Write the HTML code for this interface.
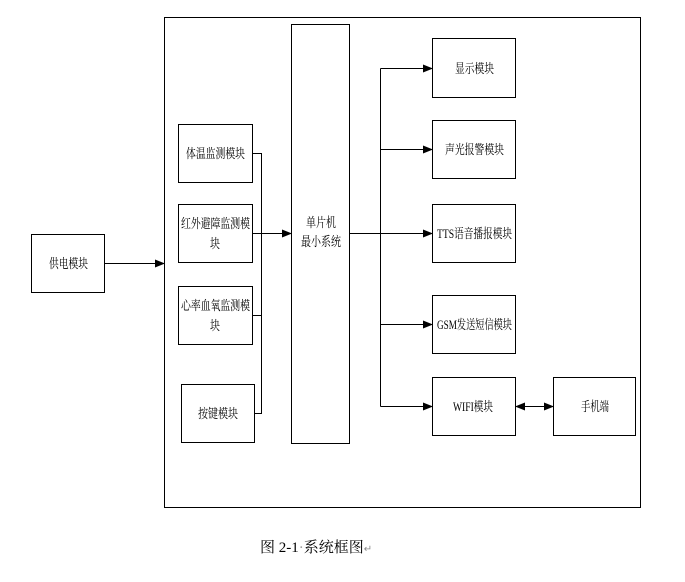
<!DOCTYPE html>
<html><head><meta charset="utf-8"><style>
html,body{margin:0;padding:0;background:#fff;}
svg{display:block;}
text{font-family:"Liberation Serif","Noto Serif CJK SC","Noto Sans CJK SC",serif;font-size:13px;fill:#000;}
</style></head><body>
<svg width="685" height="582" viewBox="0 0 685 582" xmlns="http://www.w3.org/2000/svg">
<defs>
<marker id="a" markerWidth="10" markerHeight="8" refX="9" refY="4" orient="auto" markerUnits="userSpaceOnUse"><path d="M0,0 L10,4 L0,8 z" fill="#000"/></marker>
<marker id="b" markerWidth="10" markerHeight="8" refX="1" refY="4" orient="auto" markerUnits="userSpaceOnUse"><path d="M10,0 L0,4 L10,8 z" fill="#000"/></marker>
</defs>
<g fill="none" stroke="#000" stroke-width="1">
<rect x="164.5" y="17.5" width="476" height="490"/>
<rect x="31.5" y="234.5" width="73" height="58"/>
<rect x="178.5" y="124.5" width="74" height="58"/>
<rect x="178.5" y="204.5" width="74" height="58"/>
<rect x="178.5" y="286.5" width="74" height="58"/>
<rect x="181.5" y="384.5" width="73" height="58"/>
<rect x="291.5" y="24.5" width="58" height="419"/>
<rect x="432.5" y="38.5" width="83" height="59"/>
<rect x="432.5" y="120.5" width="83" height="58"/>
<rect x="432.5" y="204.5" width="83" height="58"/>
<rect x="432.5" y="295.5" width="83" height="58"/>
<rect x="432.5" y="377.5" width="83" height="58"/>
<rect x="553.5" y="377.5" width="82" height="58"/>
<path d="M104,263.5 H164" marker-end="url(#a)"/>
<path d="M252,153.5 H261.5 V413.5 H254 M252,233.5 H261.5 M252,315.5 H261.5"/>
<path d="M261.5,233.5 H291" marker-end="url(#a)"/>
<path d="M349,233.5 H380.5 M380.5,68.5 V406.5"/>
<path d="M380.5,68.5 H432" marker-end="url(#a)"/>
<path d="M380.5,149.5 H432" marker-end="url(#a)"/>
<path d="M380.5,233.5 H432" marker-end="url(#a)"/>
<path d="M380.5,324.5 H432" marker-end="url(#a)"/>
<path d="M380.5,406.5 H432" marker-end="url(#a)"/>
<path d="M516,406.5 H553" marker-start="url(#b)" marker-end="url(#a)"/>
</g>
<g lengthAdjust="spacingAndGlyphs">
<text x="49" y="268" textLength="39" lengthAdjust="spacingAndGlyphs">供电模块</text>
<text x="186" y="158" textLength="59" lengthAdjust="spacingAndGlyphs">体温监测模块</text>
<text x="181" y="228" textLength="69" lengthAdjust="spacingAndGlyphs">红外避障监测模</text>
<text x="210" y="248" textLength="10" lengthAdjust="spacingAndGlyphs">块</text>
<text x="181" y="310" textLength="69" lengthAdjust="spacingAndGlyphs">心率血氧监测模</text>
<text x="210" y="330" textLength="10" lengthAdjust="spacingAndGlyphs">块</text>
<text x="198" y="418" textLength="40" lengthAdjust="spacingAndGlyphs">按键模块</text>
<text x="306" y="227" textLength="30" lengthAdjust="spacingAndGlyphs">单片机</text>
<text x="301" y="246" textLength="40" lengthAdjust="spacingAndGlyphs">最小系统</text>
<text x="455" y="73" textLength="39" lengthAdjust="spacingAndGlyphs">显示模块</text>
<text x="445" y="154" textLength="59" lengthAdjust="spacingAndGlyphs">声光报警模块</text>
<text x="437" y="238" textLength="75" lengthAdjust="spacingAndGlyphs">TTS语音播报模块</text>
<text x="437" y="329" textLength="75" lengthAdjust="spacingAndGlyphs">GSM发送短信模块</text>
<text x="453" y="411" textLength="40" lengthAdjust="spacingAndGlyphs">WIFI模块</text>
<text x="581" y="411" textLength="28" lengthAdjust="spacingAndGlyphs">手机端</text>
</g>
<text x="260" y="552" style="font-size:15px">图 2-1<tspan fill="#999">·</tspan>系统框图<tspan fill="#888" style="font-size:10px">↵</tspan></text>
</svg>
</body></html>
